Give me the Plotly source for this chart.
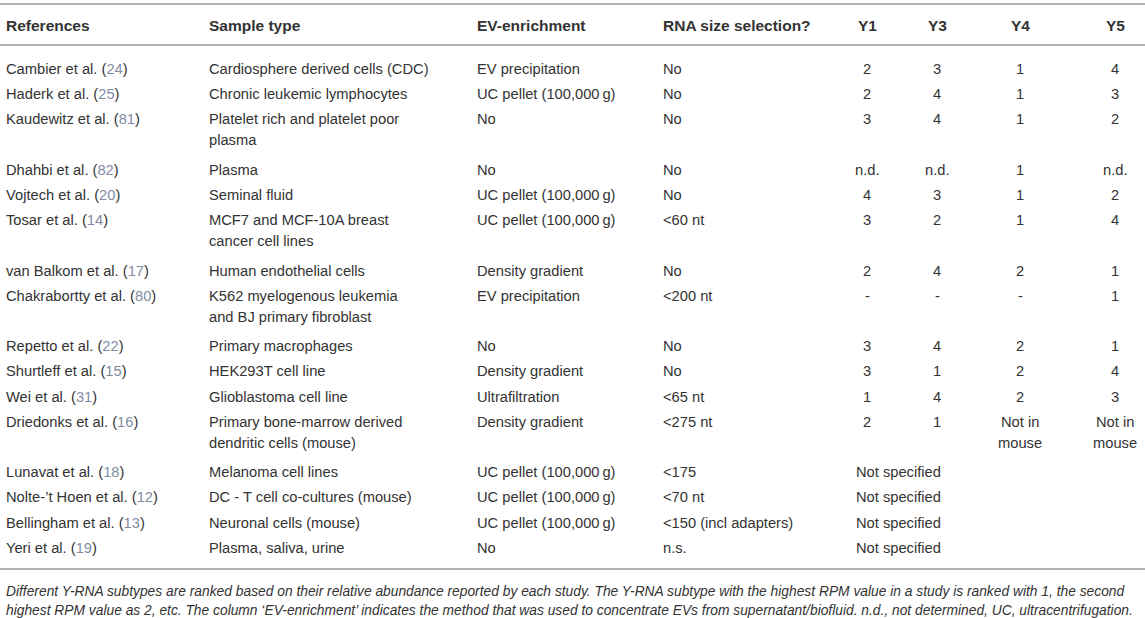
import plotly.graph_objects as go

# ---------------- data ----------------
headers = ["References", "Sample type", "EV-enrichment", "RNA size selection?", "Y1", "Y3", "Y4", "Y5"]

ref_authors = ["Cambier et al.", "Haderk et al.", "Kaudewitz et al.", "Dhahbi et al.", "Vojtech et al.",
               "Tosar et al.", "van Balkom et al.", "Chakrabortty et al.", "Repetto et al.", "Shurtleff et al.",
               "Wei et al.", "Driedonks et al.", "Lunavat et al.", "Nolte-\u2019t Hoen et al.",
               "Bellingham et al.", "Yeri et al."]
ref_numbers = ["24", "25", "81", "82", "20", "14", "17", "80", "22", "15", "31", "16", "18", "12", "13", "19"]

sample_type = ["Cardiosphere derived cells (CDC)", "Chronic leukemic lymphocytes",
               "Platelet rich and platelet poor\nplasma", "Plasma", "Seminal fluid",
               "MCF7 and MCF-10A breast\ncancer cell lines", "Human endothelial cells",
               "K562 myelogenous leukemia\nand BJ primary fibroblast", "Primary macrophages",
               "HEK293T cell line", "Glioblastoma cell line",
               "Primary bone-marrow derived\ndendritic cells (mouse)", "Melanoma cell lines",
               "DC - T cell co-cultures (mouse)", "Neuronal cells (mouse)", "Plasma, saliva, urine"]

UC = "UC pellet (100,000\u2009g)"
ev_enrichment = ["EV precipitation", UC, "No", "No", UC, UC, "Density gradient", "EV precipitation",
                 "No", "Density gradient", "Ultrafiltration", "Density gradient", UC, UC, UC, "No"]

rna_size = ["No", "No", "No", "No", "No", "<60 nt", "No", "<200 nt", "No", "No", "<65 nt", "<275 nt",
            "<175", "<70 nt", "<150 (incl adapters)", "n.s."]

y1 = ["2", "2", "3", "n.d.", "4", "3", "2", "-", "3", "3", "1", "2", "", "", "", ""]
y3 = ["3", "4", "4", "n.d.", "3", "2", "4", "-", "4", "1", "4", "1", "", "", "", ""]
y4 = ["1", "1", "1", "1", "1", "1", "2", "-", "2", "2", "2", "Not in\nmouse", "", "", "", ""]
y5 = ["4", "3", "2", "n.d.", "2", "4", "1", "1", "1", "4", "3", "Not in\nmouse", "", "", "", ""]
not_specified = [False] * 12 + [True] * 4
not_specified_label = "Not specified"

caption_lines = [
    "Different Y-RNA subtypes are ranked based on their relative abundance reported by each study. "
    "The Y-RNA subtype with the highest RPM value in a study is ranked with 1, the second",
    "highest RPM value as 2, etc. The column \u2018EV-enrichment\u2019 indicates the method that was used "
    "to concentrate EVs from supernatant/biofluid. n.d., not determined, UC, ultracentrifugation.",
]

# ---------------- layout constants ----------------
W, H = 1145, 618
FONT = "Liberation Sans, Arial, Helvetica, sans-serif"
TXT = "#333333"
REFC = "#7f8ca3"
RULE = "#b4b4b4"
BODY_SIZE = 14.7
HEAD_SIZE = 15.5
CAP_SIZE = 13.8

left_cols_x = [4, 207, 475, 661]        # left aligned columns
center_cols_x = [867, 937, 1020, 1115]  # centered Y columns
not_spec_x = 854
header_y = 25
first_row_y = 69
line_pitch = 25.2
inner_gap = 21
rules_y = [4, 45, 569]
caption_y = [591, 610]


def esc(s):
    return s.replace("&", "&amp;").replace("<", "&lt;").replace(">", "&gt;")


annotations = []


def add_text(x, y, text, anchor="left", size=BODY_SIZE, bold=False, italic=False, color=TXT):
    annotations.append(dict(
        x=x, y=y, xref="x", yref="y", text=text, showarrow=False,
        xanchor=anchor, yanchor="middle", align=anchor,
        font=dict(family=FONT, size=size, color=color,
                  weight="bold" if bold else "normal",
                  style="italic" if italic else "normal"),
    ))


def add_cell(x, y, value, anchor="left"):
    for k, line in enumerate(value.split("\n")):
        if line:
            add_text(x, y + k * inner_gap, esc(line), anchor=anchor)


# header
for i, h in enumerate(headers):
    if i < 4:
        add_text(left_cols_x[i], header_y, esc(h), anchor="left", size=HEAD_SIZE, bold=True)
    else:
        add_text(center_cols_x[i - 4], header_y, esc(h), anchor="center", size=HEAD_SIZE, bold=True)

# rows
y = first_row_y
for r in range(len(ref_authors)):
    ref_html = (esc(ref_authors[r]) + " (" +
                f"<span style='color:{REFC}'>{ref_numbers[r]}</span>" + ")")
    add_text(left_cols_x[0], y, ref_html)
    add_cell(left_cols_x[1], y, sample_type[r])
    add_cell(left_cols_x[2], y, ev_enrichment[r])
    add_cell(left_cols_x[3], y, rna_size[r])
    if not_specified[r]:
        add_text(not_spec_x, y, not_specified_label)
    else:
        for cx, col in zip(center_cols_x, [y1, y3, y4, y5]):
            add_cell(cx, y, col[r], anchor="center")
    n_lines = max(len(s.split("\n")) for s in
                  [sample_type[r], ev_enrichment[r], rna_size[r], y1[r], y3[r], y4[r], y5[r]])
    y += line_pitch * n_lines

# caption
for cy, line in zip(caption_y, caption_lines):
    add_text(4, cy, esc(line), size=CAP_SIZE, italic=True)

shapes = [dict(type="line", xref="paper", yref="y", x0=0, x1=1, y0=ry, y1=ry,
               line=dict(color=RULE, width=2)) for ry in rules_y]

fig = go.Figure()
fig.add_trace(go.Scatter(x=[0, W], y=[0, H], mode="markers",
                         marker=dict(opacity=0), hoverinfo="skip", showlegend=False))
fig.update_layout(
    width=W, height=H,
    margin=dict(l=0, r=0, t=0, b=0),
    paper_bgcolor="white", plot_bgcolor="white",
    xaxis=dict(range=[0, W], visible=False, fixedrange=True),
    yaxis=dict(range=[H, 0], visible=False, fixedrange=True),
    annotations=annotations,
    shapes=shapes,
    showlegend=False,
)
fig.write_html("out.html", config={"displayModeBar": False},
               post_script="document.body.style.margin='0';document.body.style.overflow='hidden';")
